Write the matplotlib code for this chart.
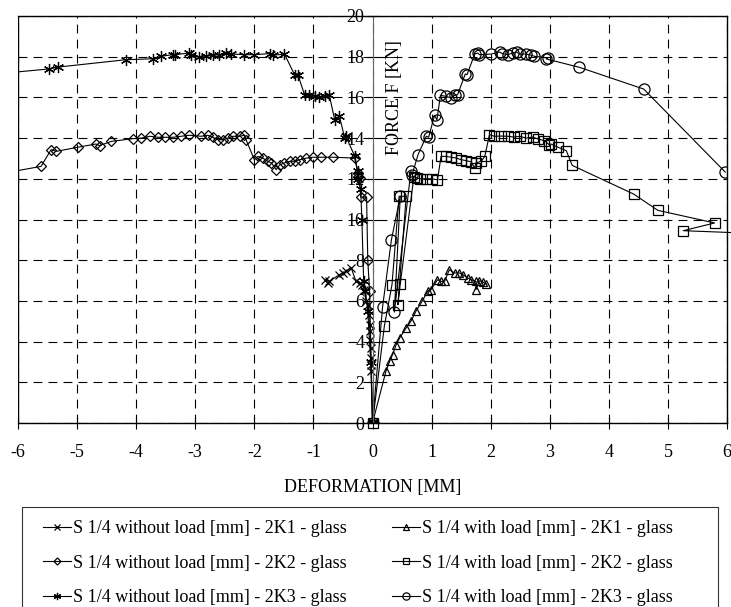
import matplotlib.pyplot as plt
from matplotlib.patches import Rectangle

# 2K1 without load (x markers)
x_2k1_wo = [0, -0.02, -0.02, -0.03, -0.03, -0.04, -0.04, -0.05, -0.06, -0.08, -0.11, -0.14, -0.17, -0.22, -0.28, -0.36, -0.45, -0.50, -0.56, -0.73, -0.81, -0.76]
y_2k1_wo = [0, 2.54, 2.86, 3.19, 3.69, 4.09, 4.5, 4.83, 5.32, 5.81, 5.98, 6.55, 6.8, 6.88, 6.96, 7.62, 7.45, 7.37, 7.29, 6.96, 7.04, 6.88]

# 2K2 without load (diamonds)
x_2k2_wo = [0, -0.05, -0.08, -0.1, -0.2, -0.22, -0.24, -0.25, -0.30, -0.67, -0.87, -1.01, -1.12, -1.23, -1.32, -1.40, -1.49, -1.57, -1.63, -1.71, -1.77, -1.86, -1.94, -2.0, -2.14, -2.17, -2.25, -2.36, -2.45, -2.53, -2.62, -2.70, -2.79, -2.90, -3.10, -3.24, -3.38, -3.52, -3.63, -3.77, -3.91, -4.06, -4.42, -4.62, -4.68, -4.99, -5.35, -5.44, -5.61, -6.2]
y_2k2_wo = [0, 6.5, 8.0, 11.1, 11.1, 12.04, 12.1, 12.3, 13.02, 13.06, 13.06, 13.06, 13.02, 12.94, 12.86, 12.86, 12.78, 12.69, 12.45, 12.78, 12.86, 13.02, 13.1, 12.94, 13.92, 14.14, 14.09, 14.09, 14.0, 13.92, 13.92, 14.04, 14.14, 14.09, 14.14, 14.09, 14.04, 14.04, 14.04, 14.09, 14.0, 13.97, 13.84, 13.63, 13.71, 13.55, 13.35, 13.43, 12.61, 12.3]

# 2K3 without load (asterisks)
x_2k3_wo = [0, -0.03, -0.08, -0.12, -0.15, -0.18, -0.2, -0.25, -0.25, -0.30, -0.45, -0.47, -0.56, -0.64, -0.73, -0.81, -0.90, -0.98, -1.07, -1.15, -1.26, -1.32, -1.49, -1.69, -1.74, -2.0, -2.17, -2.39, -2.48, -2.59, -2.70, -2.81, -2.93, -3.07, -3.10, -3.35, -3.38, -3.58, -3.71, -4.18, -5.32, -5.47, -6.2]
y_2k3_wo = [0, 3.0, 5.5, 6.5, 7.0, 10.0, 11.5, 12.0, 12.37, 13.1, 14.09, 14.0, 15.07, 14.9, 16.1, 16.05, 16.0, 16.05, 16.1, 16.13, 17.09, 17.12, 18.13, 18.07, 18.15, 18.1, 18.1, 18.13, 18.18, 18.1, 18.07, 18.02, 17.97, 18.1, 18.18, 18.1, 18.1, 18.02, 17.9, 17.85, 17.49, 17.4, 17.2]

# 2K1 with load (triangles)
x_2k1_w = [0, 0.23, 0.29, 0.34, 0.40, 0.46, 0.57, 0.65, 0.74, 0.84, 0.94, 0.99, 1.10, 1.16, 1.22, 1.30, 1.39, 1.47, 1.53, 1.61, 1.67, 1.75, 1.75, 1.81, 1.87, 1.92]
y_2k1_w = [0, 2.57, 3.03, 3.36, 3.85, 4.18, 4.67, 5.0, 5.52, 5.98, 6.5, 6.55, 7.04, 6.96, 6.96, 7.53, 7.37, 7.37, 7.29, 7.13, 7.04, 6.96, 6.55, 6.99, 6.93, 6.83]

# 2K2 with load (squares)
x_2k2_w = [0, 0.2, 0.33, 0.45, 0.57, 0.43, 0.47, 0.70, 0.75, 0.80, 0.90, 1.0, 1.1, 1.16, 1.25, 1.33, 1.42, 1.50, 1.59, 1.67, 1.73, 1.75, 1.84, 1.90, 1.98, 2.06, 2.18, 2.29, 2.40, 2.49, 2.60, 2.71, 2.80, 2.91, 2.99, 3.02, 3.14, 3.28, 3.38, 4.42, 4.83, 5.79, 5.26, 6.6]
y_2k2_w = [0, 4.75, 6.8, 11.14, 11.14, 5.81, 6.83, 12.1, 12.05, 12.0, 12.0, 12.0, 11.95, 13.1, 13.1, 13.06, 13.02, 12.94, 12.89, 12.83, 12.53, 12.78, 12.86, 13.1, 14.17, 14.09, 14.1, 14.09, 14.05, 14.09, 14.0, 14.05, 13.96, 13.87, 13.68, 13.71, 13.55, 13.38, 12.66, 11.25, 10.45, 9.83, 9.45, 9.3]

# 2K3 with load (circles)
x_2k3_w = [0, 0.17, 0.32, 0.47, 0.37, 0.65, 0.67, 0.77, 0.91, 0.95, 1.05, 1.09, 1.15, 1.25, 1.33, 1.39, 1.44, 1.57, 1.60, 1.73, 1.78, 1.81, 2.01, 2.15, 2.2, 2.29, 2.37, 2.44, 2.49, 2.60, 2.69, 2.74, 2.97, 2.94, 3.50, 4.59, 5.97]
y_2k3_w = [0, 5.69, 9.0, 11.14, 5.45, 12.37, 12.2, 13.18, 14.09, 14.04, 15.12, 14.9, 16.1, 16.05, 15.97, 16.1, 16.13, 17.15, 17.12, 18.13, 18.18, 18.1, 18.13, 18.23, 18.15, 18.1, 18.18, 18.23, 18.13, 18.13, 18.07, 18.02, 17.94, 17.89, 17.48, 16.41, 12.33]

plt.rcParams['font.family'] = 'Liberation Serif'
plt.rcParams['font.size'] = 13
plt.rcParams['axes.unicode_minus'] = False

fig = plt.figure(figsize=(7.31, 6.07), dpi=100)
ax = fig.add_axes([18 / 731, 184 / 607, 709 / 731, 407 / 607])

line_kw = dict(color='black', lw=0.8, mfc='none', mec='black', mew=0.9)
h1, = ax.plot(x_2k1_wo, y_2k1_wo, marker='x', ms=6, label='S 1/4 without load [mm] - 2K1 - glass', **line_kw)
h2, = ax.plot(x_2k2_wo, y_2k2_wo, marker='D', ms=5.5, label='S 1/4 without load [mm] - 2K2 - glass', **line_kw)
h3, = ax.plot(x_2k3_wo, y_2k3_wo, marker=(6, 2, 0), ms=8, label='S 1/4 without load [mm] - 2K3 - glass', **line_kw)
h4, = ax.plot(x_2k1_w, y_2k1_w, marker='^', ms=6, label='S 1/4 with load [mm] - 2K1 - glass', **line_kw)
h5, = ax.plot(x_2k2_w, y_2k2_w, marker='s', ms=7, label='S 1/4 with load [mm] - 2K2 - glass', clip_on=False, **line_kw)
h6, = ax.plot(x_2k3_w, y_2k3_w, marker='o', ms=8, label='S 1/4 with load [mm] - 2K3 - glass', **line_kw)

ax.set_xlim(-6, 6)
ax.set_ylim(0, 20)
ax.set_xticks(range(-6, 7))
ax.set_yticks(range(0, 21, 2))

# y axis drawn through x = 0
ax.spines['left'].set_position(('data', 0))
ax.spines['left'].set_color('#666666')
for s in ['top', 'right', 'bottom']:
    ax.spines[s].set_color('black')
    ax.spines[s].set_linewidth(1.0)
ax.axvline(-6, color='black', lw=1.0)
ax.tick_params(direction='inout', length=8, width=0.8, labelsize=13)
ax.tick_params(axis='x', pad=11)
ax.tick_params(axis='y', pad=2)

ax.grid(True, color='black', ls=(0, (8, 5.5)), lw=0.8)
ax.set_axisbelow(True)

ax.set_xlabel('DEFORMATION [MM]', fontsize=13, labelpad=13)
ax.text(0.37, 16.0, 'FORCE F [KN]', rotation=90, ha='center', va='center', fontsize=13)

# legend box drawn separately, entries placed inside
fig.add_artist(Rectangle((21.5 / 731, -0.02), 696 / 731, 100 / 607 + 0.02, transform=fig.transFigure,
                         fill=False, edgecolor='#333333', lw=0.8))
handles = [h1, h2, h3, h4, h5, h6]
leg = fig.legend(handles, [h.get_label() for h in handles], loc='upper left', ncol=2,
                 bbox_to_anchor=(43 / 731, 87 / 607), frameon=False,
                 fontsize=13, handlelength=1.55, handletextpad=0.12, columnspacing=2.5,
                 labelspacing=0.98, borderpad=0, borderaxespad=0, markerscale=0.65)

fig.savefig('out.png', dpi=100)
